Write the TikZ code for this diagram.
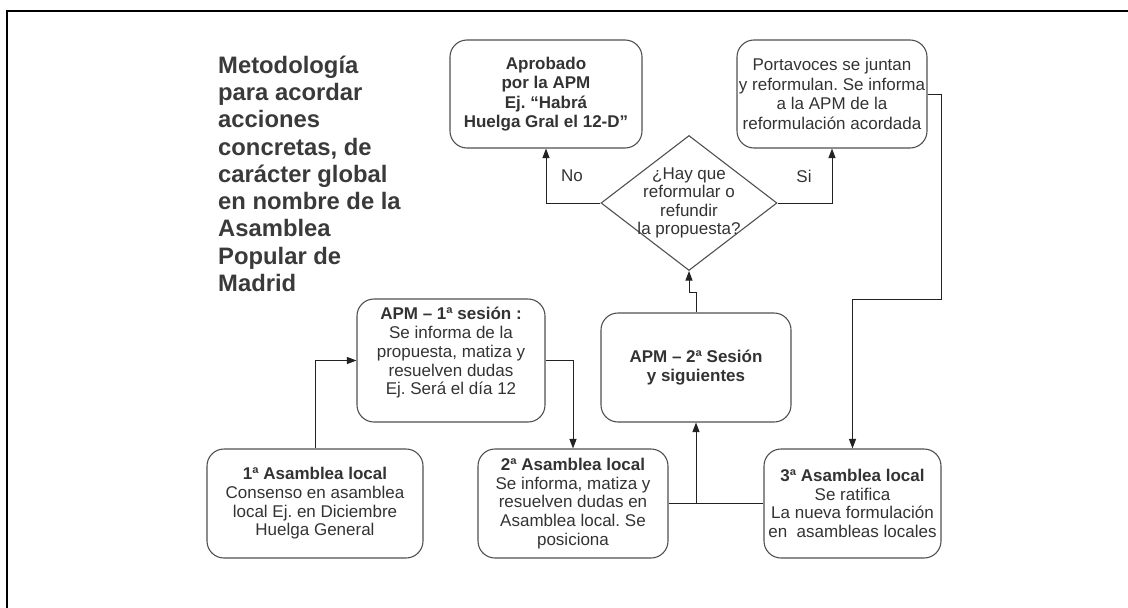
\documentclass[tikz,border=0pt]{standalone}
\usepackage{fontspec}
\setmainfont{Liberation Sans}
\usetikzlibrary{shapes.geometric,arrows.meta}
\definecolor{txtc}{HTML}{333333}
\definecolor{titc}{HTML}{3A3A3A}
\definecolor{bord}{HTML}{505050}
\definecolor{linec}{HTML}{222222}
\frenchspacing
\begin{document}
\begin{tikzpicture}[x=1pt,y=-1pt,
  box/.style={draw=bord, line width=1.1pt, rounded corners=17pt, align=center,
    text=txtc, font=\fontsize{17}{18.7}\selectfont, inner sep=0pt},
  conn/.style={draw=linec, line width=0.9pt},
  arr/.style={conn, -{Triangle[length=9.5pt,width=7pt]}},
  lbl/.style={text=txtc, font=\fontsize{17}{18.5}\selectfont, align=center, inner sep=0pt}]
\useasboundingbox (0,0) rectangle (1128,608);
\draw[line width=2.7pt, line cap=rect] (7,612) -- (7,11) -- (1132,11);

% title
\node[anchor=north west, inner sep=0pt, align=left, text=titc,
  font=\bfseries\fontsize{23.8}{27.3}\selectfont] (title) at (218,55.5)
  {Metodología\\para acordar\\acciones\\concretas, de\\carácter global\\en nombre de la\\Asamblea\\Popular de\\Madrid};

% boxes
\node[box, minimum width=192pt, minimum height=108pt, font=\fontsize{17}{19.4}\selectfont] (aprob) at (546,94)
  {\bfseries Aprobado\\\bfseries por la APM\\\bfseries Ej. “Habrá\\\bfseries Huelga Gral el 12-D”};
\node[box, minimum width=190pt, minimum height=108pt, font=\fontsize{17}{19.4}\selectfont] (porta) at (832,94)
  {Portavoces se juntan\\y reformulan. Se informa\\a la APM de la\\reformulación acordada};
\node[box, minimum width=188pt, minimum height=123pt] (apm1) at (451,360.5)
  {\bfseries APM – 1ª sesión :\\Se informa de la\\propuesta, matiza y\\resuelven dudas\\Ej. Será el día 12\\\mbox{}};
\node[box, minimum width=190pt, minimum height=109pt] (apm2) at (696,367.5)
  {\bfseries APM – 2ª Sesión\\\bfseries y siguientes};
\node[box, minimum width=216pt, minimum height=109pt] (a1) at (315,503.5)
  {\bfseries 1ª Asamblea local\\Consenso en asamblea\\local Ej. en Diciembre\\Huelga General};
\node[box, minimum width=190pt, minimum height=109pt] (a2) at (573,503.5)
  {\bfseries 2ª Asamblea local\\Se informa, matiza y\\resuelven dudas en\\Asamblea local. Se\\posiciona};
\node[box, minimum width=177pt, minimum height=109pt] (a3) at (852.5,503.5)
  {\bfseries 3ª Asamblea local\\Se ratifica\\La nueva formulación\\en\ \ asambleas locales};

% decision
\node[diamond, draw=bord, line width=1.1pt, minimum width=176pt, minimum height=135pt, inner sep=0pt] (dia) at (689,203) {};
\node[lbl] (diat) at (689,203) {¿Hay que\\reformular o\\refundir\\la propuesta?};

\node[lbl] (no) at (572,176) {No};
\node[lbl] (si) at (804,176) {Si};

% connectors
\coordinate (c1) at (941,299);
\draw[arr] (a1.north) |- (apm1.west);
\draw[arr] (apm1.east) -| (a2.north);
\draw[conn] (a2.east) -- (a3.west);
\draw[arr] (apm2.south |- a2.east) -- (apm2.south);
\draw[arr] (apm2.north) -- ++(0,-20) -| (dia.south);
\draw[arr] (dia.west) -| (aprob.south);
\draw[arr] (dia.east) -| (porta.south);
\draw[arr] (porta.east) -| (c1) -| (a3.north);
\end{tikzpicture}
\end{document}
